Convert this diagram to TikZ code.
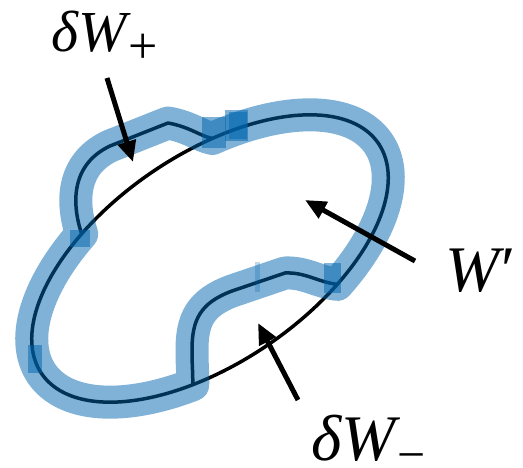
\documentclass[tikz,border=0pt]{standalone}
\usepackage{fontspec}
\setmainfont{Liberation Serif}
\usetikzlibrary{arrows.meta}
\definecolor{bandblue}{RGB}{0,101,173}
\tikzset{
  outline/.style={line width=3.5pt, draw=black},
  band/.style={line width=33pt, draw=bandblue, draw opacity=0.5, line join=round, line cap=round},
  patch/.style={fill=bandblue, fill opacity=0.5, draw=none},
  pointer/.style={line width=5pt, draw=black, -{Triangle[length=21pt,width=18pt]}},
  lbl/.style={inner sep=0pt, anchor=base west, font=\fontsize{65}{75}\selectfont\itshape},
  lblsmall/.style={lbl, font=\fontsize{58}{68}\selectfont\itshape}
}
\newcommand{\ex}[1]{(210+204*cos(#1)*0.8251-104*sin(#1)*0.5650)}
\newcommand{\ey}[1]{(258.5-204*cos(#1)*0.5650-104*sin(#1)*0.8251)}
\begin{document}
\begin{tikzpicture}[x=1pt,y=-1pt]
\useasboundingbox (0,0) rectangle (523,468);
% ellipse W
\draw[outline] plot[domain=0:360, samples=120, variable=\t, smooth cycle] ({\ex{\t}}, {\ey{\t}});
% bumps
\coordinate (J1) at ({\ex{70}}, {\ey{70}});
\coordinate (J2) at ({\ex{-63.7}}, {\ey{-63.7}});
\coordinate (J3) at ({\ex{245.2}}, {\ey{245.2}});
\coordinate (J4) at ({\ex{116.8}}, {\ey{116.8}});
\draw[outline, line join=round] (J4) .. controls (72,205) and (70,165) .. (110,146) -- (168,123) .. controls (190,127) and (200,136) .. (J1);
\draw[outline, line join=round] (J2) .. controls (318,282) and (305,272) .. (285,273) -- (232,291) .. controls (200,303) and (192,320) .. (192,350) .. controls (192,365) and (193,375) .. (J3);
% highlighted boundary band
\draw[band] plot[domain=70:-63.7, samples=60, variable=\t] ({\ex{\t}}, {\ey{\t}})
  .. controls (318,282) and (305,272) .. (285,273) -- (232,291) .. controls (200,303) and (192,320) .. (192,350) .. controls (192,365) and (193,375) .. (J3)
  -- plot[domain=245.2:116.8, samples=60, variable=\t] ({\ex{\t}}, {\ey{\t}})
  .. controls (72,205) and (70,165) .. (110,146) -- (168,123) .. controls (190,127) and (200,136) .. (J1) -- cycle;
% overlap patches
\fill[patch] (202,117) rectangle (226,148);
\fill[patch] (225,110) rectangle (248,141);
\fill[patch] (229,112) rectangle (247,139);
\fill[patch] (70,230) rectangle (90,247);
\fill[patch] (28,345) rectangle (42,373);
\fill[patch] (324,263) rectangle (341,293);
\fill[patch, fill opacity=0.25] (255,262) rectangle (260,292);
% labels
\node[lblsmall] (dWp) at (51,52) {δW\kern2pt\raisebox{-12pt}[0pt][0pt]{\upshape\fontsize{52}{58}\selectfont +}};
\node[lbl] (Wp) at (445,292) {W\kern2pt\upshape′};
\node[lbl] (dWm) at (311,460) {δW\kern2pt\raisebox{-12pt}[0pt][0pt]{\upshape\fontsize{50}{56}\selectfont −}};
% arrows
\coordinate (a1s) at (107,78);
\coordinate (a1e) at (133,162);
\coordinate (a2s) at (415,261);
\coordinate (a2e) at (305,200);
\coordinate (a3s) at (298,400);
\coordinate (a3e) at (258,323);
\draw[pointer] (a1s) -- (a1e);
\draw[pointer] (a2s) -- (a2e);
\draw[pointer] (a3s) -- (a3e);
\end{tikzpicture}
\end{document}
